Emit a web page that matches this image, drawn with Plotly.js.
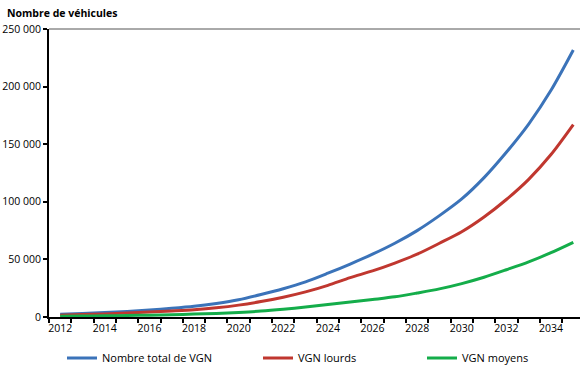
<!DOCTYPE html>
<html>
<head>
<meta charset="utf-8">
<script src="https://cdn.plot.ly/plotly-3.0.1.min.js"></script>
<style>html,body{margin:0;padding:0;background:#fff;}#chart{width:580px;height:368px;}</style>
</head>
<body>
<div id="chart"></div>
<script>
var years = [2012,2013,2014,2015,2016,2017,2018,2019,2020,2021,2022,2023,2024,2025,2026,2027,2028,2029,2030,2031,2032,2033,2034,2035];
var totalVGN = [2300,3000,3800,4800,6000,7500,9300,11800,15000,19500,24500,30500,38000,46000,54500,64000,75000,88000,102500,121000,143000,167500,196800,231800];
var lourdsVGN = [1600,2100,2700,3400,4300,5300,6400,8000,10300,13400,17200,21800,27500,34200,40000,46800,54500,64000,74000,86800,102000,119500,141000,167000];
var moyensVGN = [600,800,1000,1300,1600,2000,2500,3100,4000,5100,6700,8600,10800,13000,15200,17500,20800,24400,29000,34500,41000,47800,55800,64800];
var seriesNames = ["Nombre total de VGN","VGN lourds","VGN moyens"];
var yTickVals = [0,50000,100000,150000,200000,250000];
var xLabelYears = [2012,2014,2016,2018,2020,2022,2024,2026,2028,2030,2032,2034];

var font = "'Open Sans', 'Noto Sans', sans-serif";
var colors = ["#3b73b9","#c0372f","#14ad4a"];
var dataSets = [totalVGN, lourdsVGN, moyensVGN];
var legendIds = ["legend","legend2","legend3"];
var traces = dataSets.map(function(d,i){
  return {x: years, y: d, type: "scatter", mode: "lines", name: seriesNames[i],
    line: {color: colors[i], width: 3, shape: "spline", smoothing: 0.8},
    legend: legendIds[i], hoverinfo: "x+y"};
});

var plotW = 531;
function lx(px){ return (px - 49)/plotW; }
function legendAt(px){
  return {orientation: "h", x: lx(px), xanchor: "left", y: 1 - 358/368, yref: "container", yanchor: "middle",
    font: {family: font, size: 11, color: "#000"}, bgcolor: "rgba(0,0,0,0)", borderwidth: 0, itemwidth: 30};
}

var layout = {
  width: 580, height: 368,
  margin: {l: 49, r: 0, t: 29, b: 50.5, pad: 0},
  paper_bgcolor: "#fff", plot_bgcolor: "#fff",
  separators: ", ",
  font: {family: font, size: 10.5, color: "#000"},
  title: {text: "<b>Nombre de véhicules</b>", x: 0.012, xref: "container", xanchor: "left",
    y: 1 - 13/368, yref: "container", yanchor: "middle", font: {family: font, size: 10.5, color: "#000"}},
  xaxis: {range: [2011.5, 2035.3], tickmode: "array", tickvals: xLabelYears, ticktext: xLabelYears.map(String),
    ticks: "", showgrid: false, zeroline: false, showline: true, linecolor: "#000", linewidth: 2,
    tickfont: {family: font, size: 10.5, color: "#000"},
    minor: {tick0: 2011.5, dtick: 1, ticks: "outside", ticklen: 4, tickwidth: 2, tickcolor: "#000", showgrid: false},
    fixedrange: true},
  yaxis: {range: [0, 250000], tickmode: "array", tickvals: yTickVals, tickformat: ",d",
    ticks: "outside", ticklen: 4, tickwidth: 2, tickcolor: "#000",
    showgrid: false, zeroline: false, showline: true, linecolor: "#000", linewidth: 2,
    tickfont: {family: font, size: 10.5, color: "#000"}, fixedrange: true},
  shapes: [{type: "line", xref: "paper", yref: "paper", x0: 0, x1: 1, y0: 1, y1: 1, line: {color: "#555", width: 1}}],
  showlegend: true,
  legend: legendAt(62),
  legend2: legendAt(258),
  legend3: legendAt(422)
};

Plotly.newPlot("chart", traces, layout, {displayModeBar: false, staticPlot: true});
</script>
</body>
</html>
